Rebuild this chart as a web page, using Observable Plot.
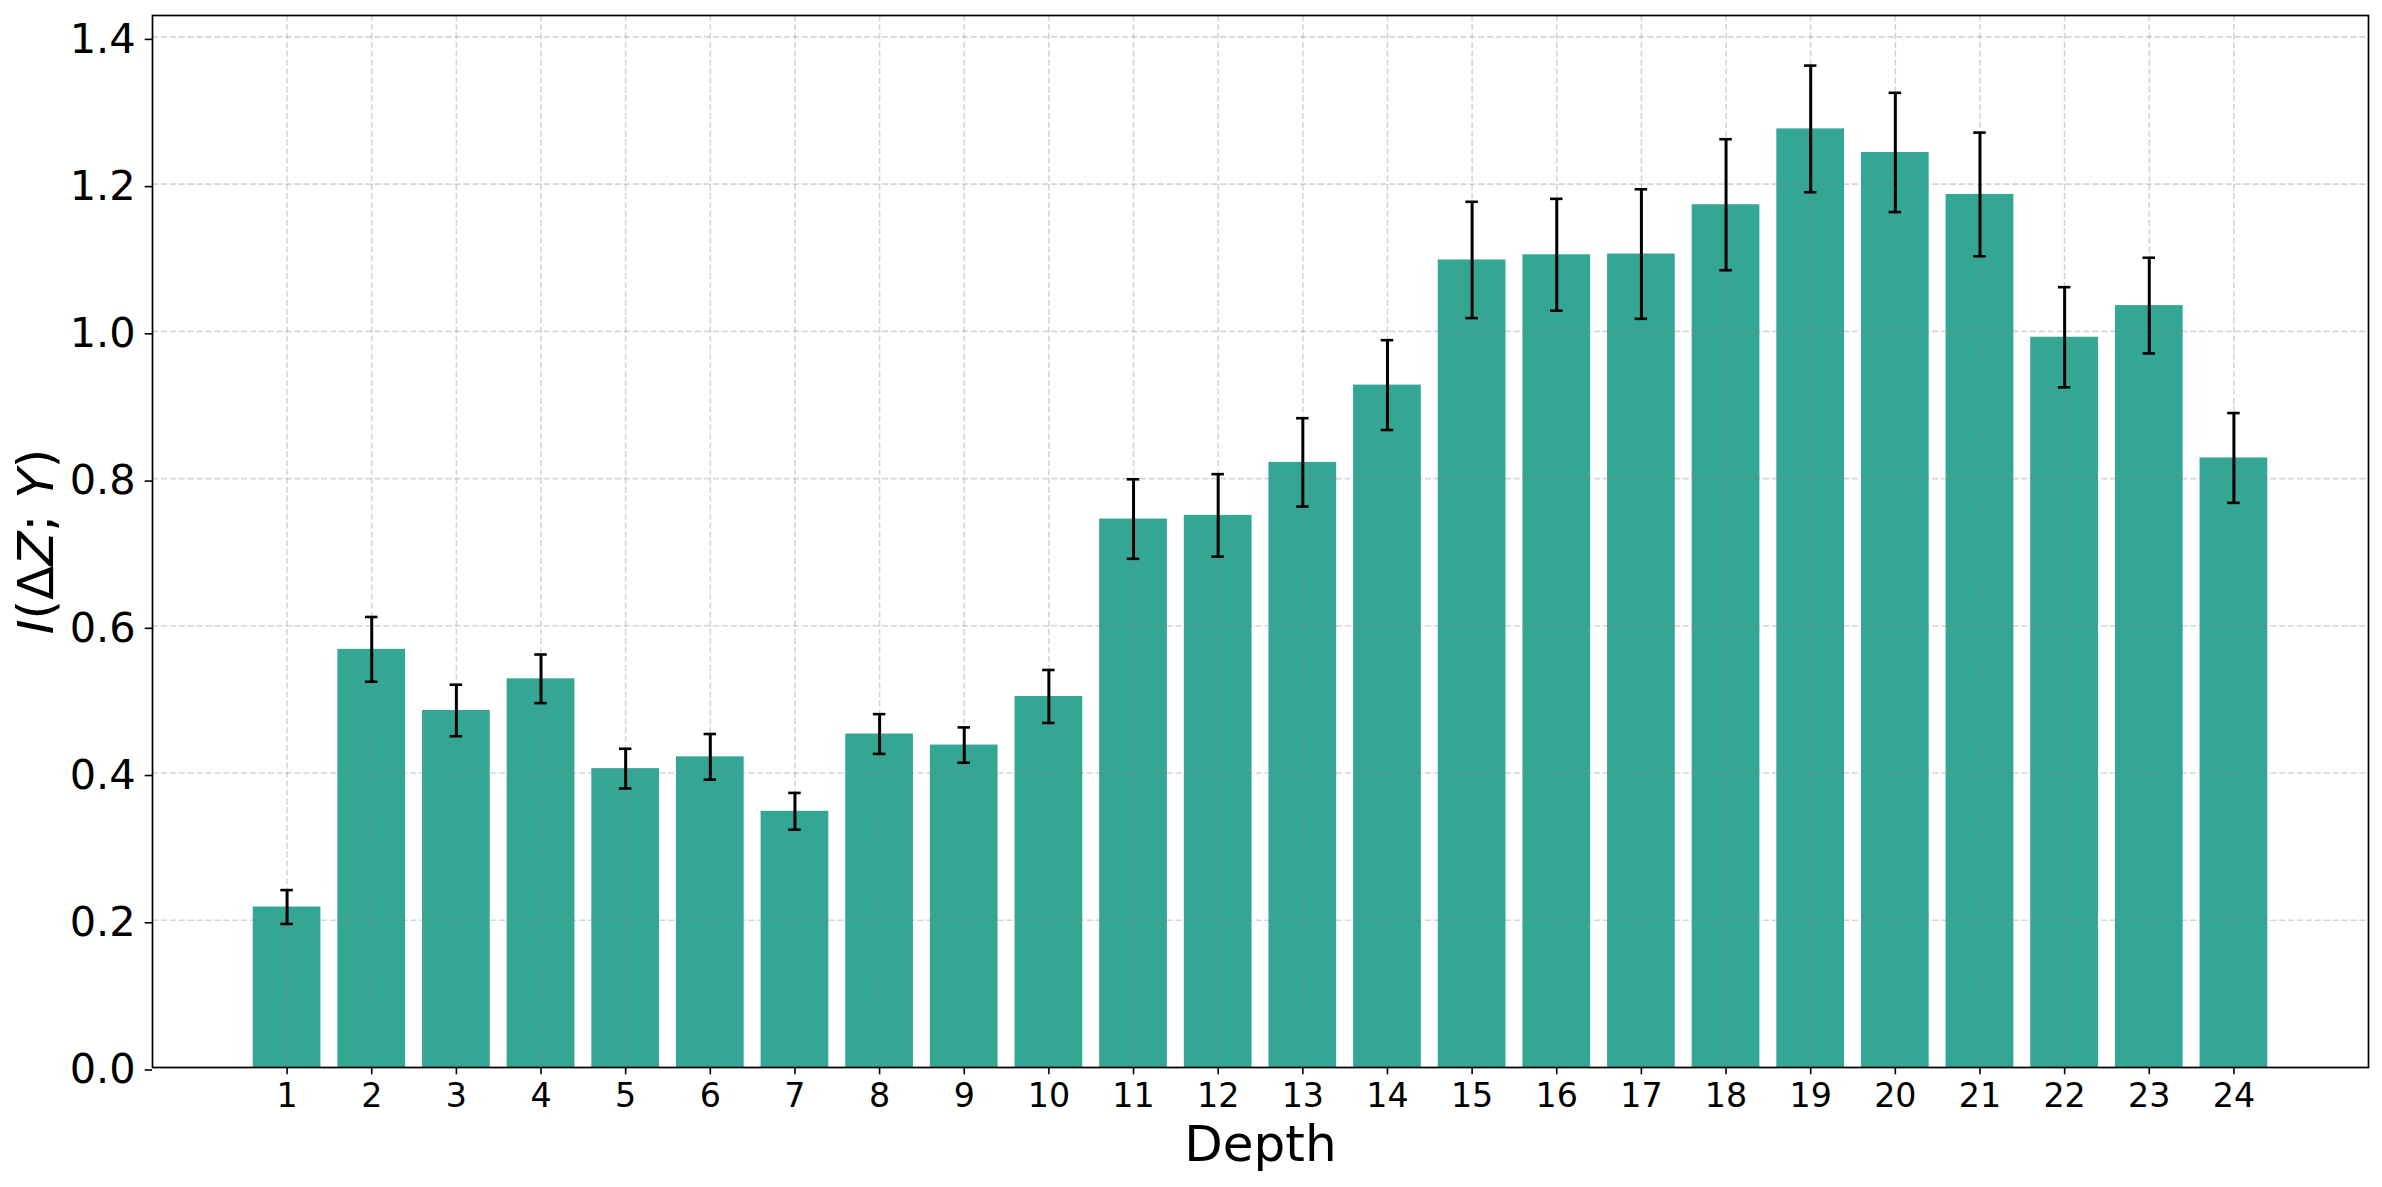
<!DOCTYPE html>
<html>
<head>
<meta charset="utf-8">
<script src="https://cdn.jsdelivr.net/npm/d3@7"></script>
<script src="https://cdn.jsdelivr.net/npm/@observablehq/plot@0.6"></script>
<style>
  html, body { margin: 0; padding: 0; background: #ffffff; }
  svg { display: block; }
</style>
</head>
<body>
<div id="chart"></div>
<script>
// ---- Data ----
const depths = [1, 2, 3, 4, 5, 6, 7, 8, 9, 10, 11, 12, 13, 14, 15, 16, 17, 18, 19, 20, 21, 22, 23, 24];
const values = [0.218, 0.568, 0.485, 0.528, 0.406, 0.422, 0.348, 0.453, 0.438, 0.504, 0.745, 0.750,
                0.822, 0.927, 1.097, 1.104, 1.105, 1.172, 1.275, 1.243, 1.186, 0.992, 1.035, 0.828];
const errors = [0.023, 0.044, 0.035, 0.033, 0.027, 0.031, 0.025, 0.027, 0.024, 0.036, 0.054, 0.056,
                0.060, 0.061, 0.079, 0.076, 0.088, 0.089, 0.086, 0.081, 0.084, 0.068, 0.065, 0.061];
const yTicks = [0.0, 0.2, 0.4, 0.6, 0.8, 1.0, 1.2, 1.4];
const xLabel = "Depth";
const yLabel = "I(ΔZ; Y)";
const yLabelParts = [["I", "italic"], ["(Δ", "normal"], ["Z", "italic"], ["; ", "normal"], ["Y", "italic"], [")", "normal"]];

// ---- Table ----
const data = depths.map((d, i) => ({depth: d, value: values[i], err: errors[i]}));

// matplotlib-like bar layout (bar width 0.8, 5% margins)
const barWidth = 0.8;
const xLo = depths[0] - barWidth / 2, xHi = depths[depths.length - 1] + barWidth / 2;
const xPad = 0.05 * (xHi - xLo);
const xDomain = [xLo - xPad, xHi + xPad];
const yMax = d3.max(data, d => d.value + d.err) * 1.05;

const barColor = "#34a794";
const gridStyle = {stroke: "gray", strokeOpacity: 0.32, strokeWidth: 1.6, strokeDasharray: "6.2,2.7"};

const chart = Plot.plot({
  width: 2382,
  height: 1187,
  marginLeft: 152,
  marginRight: 14,
  marginTop: 15,
  marginBottom: 120,
  style: {fontFamily: "'DejaVu Sans', sans-serif", background: "#ffffff", color: "#000000", overflow: "visible"},
  x: {type: "linear", domain: xDomain},
  y: {type: "linear", domain: [0, yMax]},
  marks: [
    Plot.rect(data, {
      x1: d => d.depth - barWidth / 2,
      x2: d => d.depth + barWidth / 2,
      y1: 0,
      y2: "value",
      fill: barColor
    }),
    Plot.gridX({ticks: depths, ...gridStyle}),
    Plot.gridY({ticks: yTicks, ...gridStyle}),
    Plot.ruleX(data, {
      x: "depth",
      y1: d => d.value - d.err,
      y2: d => d.value + d.err,
      stroke: "#000000",
      strokeWidth: 3
    }),
    Plot.ruleY(data, {
      y: d => d.value - d.err,
      x1: "depth", x2: "depth",
      insetLeft: -6.25, insetRight: -6.25,
      stroke: "#000000", strokeWidth: 2.6
    }),
    Plot.ruleY(data, {
      y: d => d.value + d.err,
      x1: "depth", x2: "depth",
      insetLeft: -6.25, insetRight: -6.25,
      stroke: "#000000", strokeWidth: 2.6
    }),
    Plot.frame({stroke: "#000000", strokeWidth: 1.7}),
    Plot.axisX({
      ticks: depths, tickFormat: d => String(d),
      tickSize: 7.3, tickPadding: 9, fontSize: 33.3,
      stroke: "#000000", strokeWidth: 1.6, fill: "#000000", label: null
    }),
    Plot.axisY({
      ticks: yTicks, tickFormat: d => d.toFixed(1),
      tickSize: 7.3, tickPadding: 9.5, fontSize: 41.5, dy: 2.5,
      stroke: "#000000", strokeWidth: 1.6, fill: "#000000", label: null
    }),
    Plot.text([xLabel], {
      frameAnchor: "bottom", lineAnchor: "top", dy: 58, fontSize: 50, fill: "#000000"
    }),
    Plot.text([yLabel], {
      frameAnchor: "left", textAnchor: "middle", lineAnchor: "middle", rotate: -90, dx: -116, fontSize: 50,
      fill: "#000000"
    })
  ]
});

document.getElementById("chart").appendChild(chart);

// Mixed italic/upright y label, as in matplotlib mathtext
d3.select(chart).selectAll("text").each(function () {
  if (this.textContent === yLabel) {
    const t = d3.select(this);
    t.text(null).attr("xml:space", "preserve").style("white-space", "pre");
    for (const [s, st] of yLabelParts) {
      t.append("tspan").attr("font-style", st).style("font-style", st).text(s);
    }
  }
});
</script>
</body>
</html>
